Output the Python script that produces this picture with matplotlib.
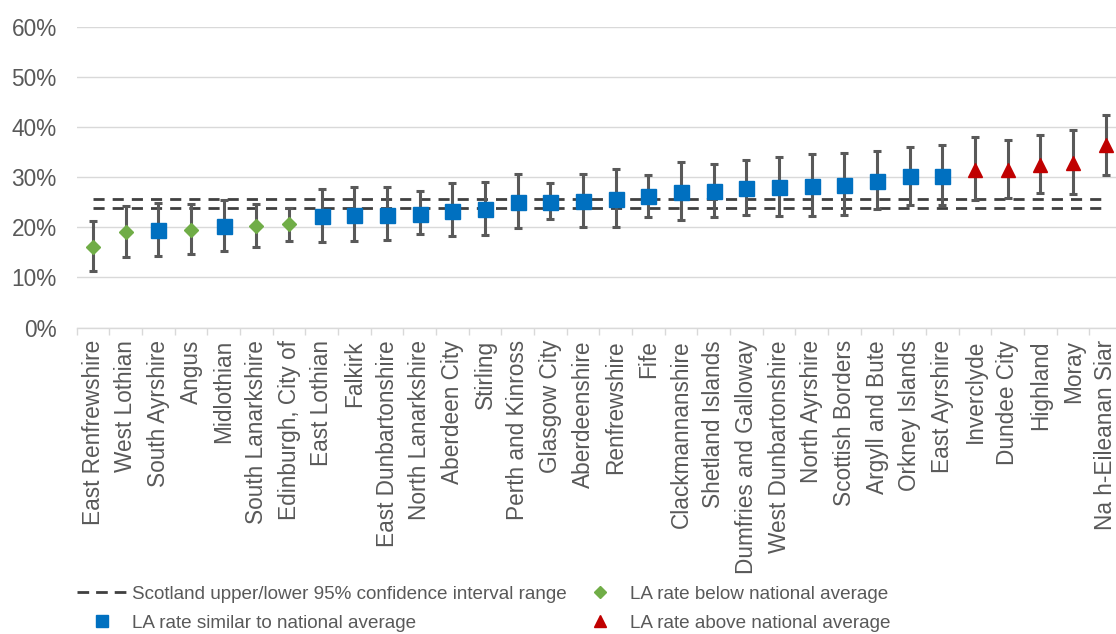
import matplotlib
matplotlib.use("Agg")
import matplotlib.pyplot as plt
from matplotlib.lines import Line2D
from matplotlib.ticker import FuncFormatter, FixedLocator
import numpy as np

# Local authority rates (%) with 95% confidence limits
areas = ["East Renfrewshire", "West Lothian", "South Ayrshire", "Angus", "Midlothian",
         "South Lanarkshire", "Edinburgh, City of", "East Lothian", "Falkirk",
         "East Dunbartonshire", "North Lanarkshire", "Aberdeen City", "Stirling",
         "Perth and Kinross", "Glasgow City", "Aberdeenshire", "Renfrewshire", "Fife",
         "Clackmannanshire", "Shetland Islands", "Dumfries and Galloway",
         "West Dunbartonshire", "North Ayrshire", "Scottish Borders", "Argyll and Bute",
         "Orkney Islands", "East Ayrshire", "Inverclyde", "Dundee City", "Highland",
         "Moray", "Na h-Eileanan Siar"]
rate = [16.1, 19.1, 19.4, 19.5, 20.2, 20.3, 20.6, 22.2, 22.5, 22.5, 22.7, 23.3, 23.6,
        25.1, 25.1, 25.3, 25.6, 26.2, 27.1, 27.3, 27.8, 28.0, 28.3, 28.5, 29.2, 30.2,
        30.3, 31.5, 31.4, 32.4, 32.9, 36.4]
ci_low = [11.3, 14.0, 14.3, 14.6, 15.2, 16.0, 17.2, 17.0, 17.2, 17.4, 18.7, 18.2, 18.5,
          19.8, 21.7, 20.1, 20.0, 22.1, 21.4, 22.1, 22.4, 22.3, 22.3, 22.5, 23.7, 24.5,
          24.5, 25.4, 25.9, 26.9, 26.7, 30.4]
ci_high = [21.3, 24.3, 24.8, 24.7, 25.5, 24.7, 23.9, 27.6, 28.1, 28.1, 27.3, 28.8, 29.0,
           30.6, 28.8, 30.7, 31.7, 30.5, 33.0, 32.6, 33.5, 34.0, 34.6, 34.8, 35.2, 36.0,
           36.5, 37.9, 37.4, 38.3, 39.3, 42.3]
status = ["below", "below", "similar", "below", "similar", "below", "below"] + \
         ["similar"] * 20 + ["above"] * 5
scotland_upper = 25.7
scotland_lower = 23.9

plt.rcParams["font.family"] = ["Liberation Sans", "DejaVu Sans"]
TXT = "#595959"

fig = plt.figure(figsize=(11.16, 6.34), dpi=100)
ax = fig.add_axes([0.0687, 0.4834, 0.9368, 0.4745])

x = np.arange(len(areas))
r = np.array(rate) / 100
lo = np.array(ci_low) / 100
hi = np.array(ci_high) / 100

# Scotland confidence band
dash = (0, (4.0, 2.9))
ax.plot(x, [scotland_upper / 100] * len(x), ls=dash, color="#404040", lw=2.0, zorder=2)
ax.plot(x, [scotland_lower / 100] * len(x), ls=dash, color="#404040", lw=2.0, zorder=2)

# Error bars
ax.errorbar(x, r, yerr=[r - lo, hi - r], fmt="none", ecolor="#595959",
            elinewidth=2.2, capsize=3.0, capthick=2.2, zorder=3)

styles = {
    "below": dict(marker="D", color="#70AD47", ms=7.2),
    "similar": dict(marker="s", color="#0070C0", ms=10.8),
    "above": dict(marker="^", color="#C00000", ms=10.5),
}
st = np.array(status)
for key, s in styles.items():
    m = st == key
    ax.plot(x[m], r[m], ls="none", marker=s["marker"], ms=s["ms"],
            color=s["color"], mec=s["color"], zorder=4)

ax.set_xlim(-0.5, len(areas) - 0.5)
ax.set_ylim(0, 0.6)
ax.set_yticks(np.arange(0, 0.61, 0.1))
ax.yaxis.set_major_formatter(FuncFormatter(lambda v, p: f"{v*100:.0f}%"))
ax.yaxis.grid(True, color="#d9d9d9", lw=1.0)
ax.set_axisbelow(True)
for sp in ["top", "right", "left"]:
    ax.spines[sp].set_visible(False)
ax.spines["bottom"].set_color("#d9d9d9")
ax.spines["bottom"].set_linewidth(1.0)

ax.set_xticks(x)
ax.set_xticklabels(areas, rotation=90, ha="center", va="top")
ax.xaxis.set_minor_locator(FixedLocator(np.arange(-0.5, len(areas), 1.0)))
ax.tick_params(axis="x", which="major", length=0, pad=9, labelsize=16.3, labelcolor=TXT)
ax.tick_params(axis="x", which="minor", length=4.8, width=1.0, color="#d9d9d9")
ax.tick_params(axis="y", length=0, pad=14.4, labelsize=16.3, labelcolor=TXT)

handles = [
    Line2D([], [], ls=(0, (4.2, 2.5)), color="#404040", lw=2.0),
    Line2D([], [], ls="none", marker="s", color="#0070C0", ms=9),
    Line2D([], [], ls="none", marker="D", color="#70AD47", ms=6),
    Line2D([], [], ls="none", marker="^", color="#C00000", ms=9),
]
labels = ["Scotland upper/lower 95% confidence interval range",
          "LA rate similar to national average",
          "LA rate below national average",
          "LA rate above national average"]
fig.legend(handles, labels, ncol=2, loc="upper left",
           bbox_to_anchor=(0.0687, 0.076), frameon=False, borderpad=0,
           borderaxespad=0, fontsize=13.6, labelcolor=TXT, handlelength=2.65,
           handletextpad=0.27, columnspacing=0.42, labelspacing=0.6)

fig.savefig("out.png", dpi=100)
